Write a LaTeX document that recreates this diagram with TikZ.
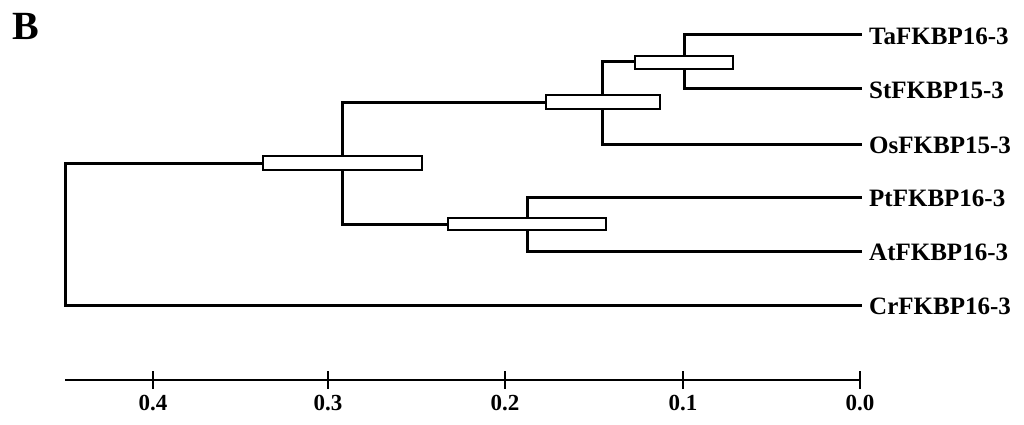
\documentclass[tikz,border=0pt]{standalone}
\usepackage{fontspec}
\setmainfont{Liberation Serif}
\begin{document}
\begin{tikzpicture}[x={(1pt,0)},y={(0,-1pt)},
  branch/.style={line width=3pt,line join=miter,line cap=rect},
  cibox/.style={draw,fill=white,line width=2pt,inner sep=0pt,minimum height=13pt},
  leaf/.style={anchor=west,inner sep=0pt,font=\fontsize{25}{26}\selectfont\bfseries},
  ticklab/.style={inner sep=0pt,font=\fontsize{23}{24}\selectfont\bfseries},
  axis/.style={line width=2.5pt}]
\useasboundingbox (0,0) rectangle (1024,425);
\node[anchor=north west,inner sep=0pt,font=\fontsize{40}{40}\selectfont\bfseries] (title) at (12,13) {B};
% internal nodes
\coordinate (n1) at (684,62);
\coordinate (n2) at (602,103);
\coordinate (n3) at (342,163);
\coordinate (n4) at (527,224);
\coordinate (root) at (65,234);
% leaf ends
\coordinate (ta) at (860,35);
\coordinate (st) at (860,89);
\coordinate (os) at (860,144);
\coordinate (pt) at (860,197);
\coordinate (at) at (860,251);
\coordinate (cr) at (860,305);
% branches
\draw[branch] (ta) -| (n1) |- (st);
\draw[branch] (n1) -| (n2) |- (os);
\draw[branch] (n2) -| (n3) |- (n4);
\draw[branch] (pt) -| (n4) |- (at);
\draw[branch] (n3) -| (root) |- (cr);
% confidence boxes
\node[cibox,minimum width=98pt,minimum height=13pt] (b1) at (684,62.5) {};
\node[cibox,minimum width=114pt,minimum height=14pt] (b2) at (603,102.5) {};
\node[cibox,minimum width=159pt,minimum height=14pt] (b3) at (342.5,163) {};
\node[cibox,minimum width=158pt,minimum height=12pt] (b4) at (527,224) {};
% labels
\node[leaf] (lta) at (869,36) {TaFKBP16-3};
\node[leaf] (lst) at (869,90) {StFKBP15-3};
\node[leaf] (los) at (869,145) {OsFKBP15-3};
\node[leaf] (lpt) at (869,198) {PtFKBP16-3};
\node[leaf] (lat) at (869,252) {AtFKBP16-3};
\node[leaf] (lcr) at (869,306) {CrFKBP16-3};
% axis
\coordinate (a0) at (65,380);
\coordinate (a1) at (860,380);
\draw[axis] (a0) -- (a1);
\foreach \v/\x in {0.4/153,0.3/328,0.2/505,0.1/683,0.0/860}{
  \draw[axis] (\x,371) -- (\x,389);
  \node[ticklab] at (\x,403) {\v};
}
\end{tikzpicture}
\end{document}
